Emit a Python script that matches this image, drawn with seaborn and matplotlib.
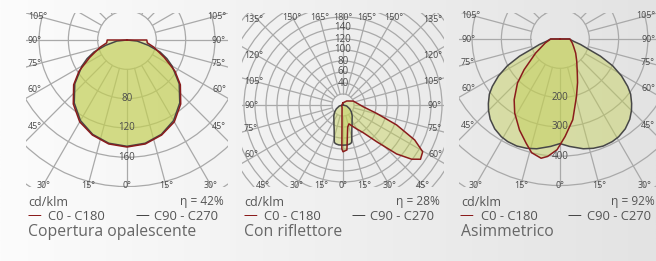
import numpy as np
import matplotlib
matplotlib.use("Agg")
import matplotlib.pyplot as plt
from matplotlib.colors import LinearSegmentedColormap
from matplotlib.patches import Circle
import seaborn as sns

# photometric curves: angle from nadir (deg), intensity (cd/klm)
# panel 1 - Copertura opalescente (both planes symmetric)
p1_c0_ang = [0, 10, 20, 30, 40, 50, 57, 65, 75, 82, 90, 91, 180]
p1_c0_val = [146, 144, 138, 129, 114, 95, 78, 56, 38, 28, 27, 0, 0]
p1_c90_ang = [0, 10, 20, 30, 40, 50, 60, 65, 70, 76, 84, 90, 180]
p1_c90_val = [145, 143, 137, 127, 112, 93, 71, 60, 48, 30, 14, 0, 0]

# panel 2 - Con riflettore (C0-C180 asymmetric, -180..180)
p2_c0_ang = [-180, -90, -45, -20, -10, -5, -3, -1.5, 0, 5, 12, 17.5, 29, 36, 42.6,
             47.6, 51.7, 55, 59.6, 64, 69.6, 76, 85, 111, 137, 180]
p2_c0_val = [4, 2, 3, 5, 10, 21, 35, 80, 85, 82, 41, 36, 49, 62, 91,
             132, 159, 172, 168, 145, 104, 63, 37, 20, 10, 4]
p2_c90_ang = [0, 6, 10, 13, 16, 20, 25, 30, 40, 50, 60, 75, 90, 180]
p2_c90_val = [73, 73, 72, 70, 58, 47, 39, 33, 26, 20, 14, 7, 0, 0]

# panel 3 - Asimmetrico
p3_c0_ang = [-180, -91, -90, -75, -60, -49.5, -44, -37, -31.5, -24, -18, -14, -9, -6,
             -1.5, 3, 9, 16, 22, 27, 37, 48, 60, 72, 90, 91, 180]
p3_c0_val = [0, 0, 32, 52, 96, 161, 209, 260, 296, 340, 374, 400, 412, 403,
             378, 333, 279, 204, 160, 130, 95, 72, 54, 44, 34, 0, 0]
p3_c90_ang = [0, 5, 12, 17, 22, 27, 31, 36, 41, 45, 48, 52, 55, 59, 63, 67, 70, 75, 80, 85, 90, 91, 180]
p3_c90_val = [357, 368, 383, 390, 394, 393, 389, 379, 363, 345, 329, 306, 282, 245, 202, 150, 106, 73, 48, 38, 32, 0, 0]

titles = ["Copertura opalescente", "Con riflettore", "Asimmetrico"]
etas = ["42", "28", "92"]
ring_labels = [[80, 120, 160], [40, 60, 80, 100, 120, 140], [200, 300, 400]]

sns.set_style("white")
plt.rcParams['font.family'] = ['Open Sans', 'DejaVu Sans']

W, H = 656, 261
fig = plt.figure(figsize=(W / 100, H / 100), dpi=100)

# soft grey background gradient
bg = fig.add_axes([0, 0, 1, 1], zorder=-10)
cmap = LinearSegmentedColormap.from_list('bg', ['#fcfcfc', '#e3e3e3'])
bg.imshow(np.linspace(0, 1, 256).reshape(1, -1), aspect='auto', cmap=cmap, extent=[0, 1, 0, 1])
bg.axis('off')

RED = '#8a1c1c'
GREY = '#474747'
FILL = '#c3cf55'
GRID = '#a9a9a9'
TXT = '#4a4a4a'


def mirror(ang, val):
    a = [-x for x in ang[::-1]] + list(ang[1:])
    v = list(val[::-1]) + list(val[1:])
    return a, v


def to_xy(ang, val):
    a = np.deg2rad(np.asarray(ang, dtype=float))
    v = np.asarray(val, dtype=float)
    return v * np.sin(a), -v * np.cos(a)


def draw_panel(i, left, cy, scale, step, top_lab, c0, c90, label_up):
    top, bottom, width = 13, 187, 202
    ax = fig.add_axes([left / W, 1 - bottom / H, width / W, (bottom - top) / H])
    ax.patch.set_alpha(0)
    half = width / 2
    cx = left + half
    ax.set_xlim(-half / scale, half / scale)
    ax.set_ylim(-(bottom - cy) / scale, (cy - top) / scale)
    ax.axis('off')

    maxr = np.hypot(half, max(bottom - cy, cy - top)) / scale
    nr = int(np.ceil(maxr / step)) + 1
    for k in range(1, nr + 1):
        ax.add_patch(Circle((0, 0), k * step, fill=False, ec=GRID, lw=0.9, zorder=1))
    for a in range(0, 360, 15):
        t = np.deg2rad(a)
        ax.plot([step * np.sin(t), nr * step * np.sin(t)],
                [-step * np.cos(t), -nr * step * np.cos(t)],
                color=GRID, lw=0.9, zorder=1)

    for ang, val, col in [(c90[0], c90[1], GREY), (c0[0], c0[1], RED)]:
        x, y = to_xy(ang, val)
        ax.fill(x, y, color=FILL, alpha=0.45, lw=0, zorder=2)
        xs = np.append(x, x[0])
        ys = np.append(y, y[0])
        sns.lineplot(x=xs, y=ys, sort=False, estimator=None, color=col, lw=1.1, ax=ax, zorder=3)

    for r in ring_labels[i]:
        ax.text(0, r if label_up else -r, str(r), ha='center', va='center',
                fontsize=7, color=TXT, zorder=4)

    # angle labels round the frame
    for a in range(-165, 181, 15):
        t = np.deg2rad(a)
        dx, dy = np.sin(t), np.cos(t)
        hits = []
        if abs(dx) > 1e-9:
            hits.append((86 / abs(dx), 'side'))
        if dy > 1e-9:
            hits.append(((185 - cy) / dy, 'bottom'))
        if dy < -1e-9:
            hits.append(((cy - top_lab) / -dy, 'top'))
        d, edge = min(hits)
        if edge == 'top' and top_lab < 15:
            continue
        px, py = d * dx, d * dy
        ha = 'center'
        if edge == 'side':
            ha = 'left' if dx < 0 else 'right'
            px = -99 if dx < 0 else min(99, W - 1 - cx)
        elif cx + px + 8 > W:
            ha, px = 'right', W - 1 - cx
        ax.text(px / scale, -py / scale, f"{abs(a):g}°", ha=ha, va='center',
                fontsize=6.4, color=TXT, clip_on=False, zorder=4)

    # legend / caption
    def ftxt(px, py, s, **kw):
        fig.text(px / W, 1 - py / H, s, va='center', **kw)

    right = min(left + width, W + 3)
    ftxt(left + 2, 202, "cd/klm", fontsize=9, color='#555555')
    ftxt(right - 4, 202, f"η = {etas[i]}%", fontsize=8.6, color='#555555', ha='right')
    ftxt(left + 1, 216, "—", fontsize=10, color=RED)
    ftxt(left + 22, 216, "C0 - C180", fontsize=9.4, color='#555555')
    ftxt(left + 109, 216, "—", fontsize=10, color=GREY)
    ftxt(left + 128, 216, "C90 - C270", fontsize=9.4, color='#555555')
    ftxt(left + 2, 232, titles[i], fontsize=11.3, color='#666666')


draw_panel(0, 26, 40, 0.733, 40, 12,
           mirror(p1_c0_ang, p1_c0_val), mirror(p1_c90_ang, p1_c90_val), False)
draw_panel(1, 242, 105, 0.55, 20, 17,
           (p2_c0_ang, p2_c0_val), mirror(p2_c90_ang, p2_c90_val), True)
draw_panel(2, 459, 39, 0.293, 100, 12,
           (p3_c0_ang, p3_c0_val), mirror(p3_c90_ang, p3_c90_val), False)

fig.savefig("out.png", dpi=100)
